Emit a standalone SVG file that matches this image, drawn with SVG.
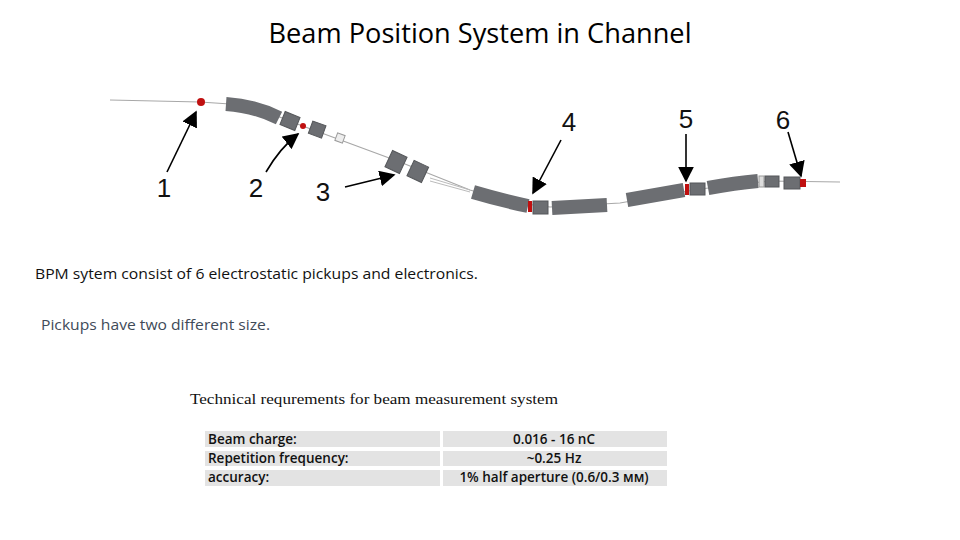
<svg xmlns="http://www.w3.org/2000/svg" width="960" height="540" viewBox="0 0 960 540">
<style>
.wire{stroke:#a8a8a8;stroke-width:1.2;fill:none}
.dip{stroke:#6c6e72;stroke-width:14;fill:none;stroke-linecap:butt}
.q{fill:#6c6e72;stroke:#55575a;stroke-width:1}
.red{fill:#c01010}
.arr{stroke:#000;stroke-width:1.6;fill:none;marker-end:url(#ah)}
.num{font-family:"Liberation Sans",Arial,sans-serif;font-size:26px;fill:#111;text-anchor:middle}
.cell{fill:#e3e3e3}
.tt{font-family:"Open Sans","Noto Sans",sans-serif;font-size:13.5px;font-weight:600;fill:#111}
</style>
<defs>
<marker id="ah" viewBox="0 0 10 10" refX="9" refY="5" markerWidth="10" markerHeight="10" orient="auto" markerUnits="strokeWidth"><path d="M0,0 L10,5 L0,10 z" fill="#000"/></marker>
</defs>
<rect width="960" height="540" fill="#fff"/>
<text x="480" y="43" text-anchor="middle" textLength="423" lengthAdjust="spacingAndGlyphs" font-family="Open Sans, Noto Sans, sans-serif" font-size="27" fill="#000">Beam Position System in Channel</text>
<g id="beamline">
<path class="wire" d="M110,100 L200,102 L230,104 Q260,108 300,125 L400,162 L470,190 Q510,203 550,207 L620,203 L700,189 L770,181 L840,182"/>
<circle class="red" cx="201" cy="102" r="4"/>
<path class="dip" d="M226,104 Q255,106 279,118"/>
<rect class="q" x="-8" y="-7" width="16" height="14" transform="translate(290,121) rotate(22)"/>
<circle class="red" cx="303" cy="126" r="3"/>
<rect class="q" x="-7" y="-7" width="14" height="13" transform="translate(317,130) rotate(20)"/>
<rect x="-4" y="-4" width="8" height="8" fill="#eee" stroke="#999" transform="translate(340,138) rotate(20)"/>
<rect class="q" x="-8" y="-9" width="16" height="18" transform="translate(396,162) rotate(25)"/>
<rect class="q" x="-8" y="-8" width="16" height="17" transform="translate(418,171) rotate(25)"/>
<path d="M430,178 L470,190 M430,181 L470,192" stroke="#bbb" fill="none"/>
<path class="dip" d="M473,192 Q500,200 528,206" stroke-width="13"/>
<rect class="red" x="528" y="201" width="4" height="11"/>
<rect class="q" x="533" y="201" width="15" height="13"/>
<path class="dip" d="M552,208 L607,205" stroke-width="13"/>
<path class="dip" d="M627,200 Q655,195 684,190" stroke-width="10"/>
<rect class="red" x="685" y="184" width="4" height="11"/>
<rect class="q" x="690" y="183" width="15" height="12"/>
<path class="dip" d="M708,188 Q735,183 758,181" stroke-width="12"/>
<rect x="759" y="176" width="5" height="11" fill="#ddd" stroke="#999"/>
<rect class="q" x="765" y="176" width="14" height="11"/>
<rect class="q" x="784" y="177" width="16" height="12"/>
<rect class="red" x="800" y="179" width="6" height="8"/>
</g>
<g id="connectors">
<line class="arr" x1="167" y1="172" x2="196" y2="112"/>
<path class="arr" d="M266,172 Q280,148 298,134"/>
<line class="arr" x1="345" y1="187" x2="394" y2="175"/>
<line class="arr" x1="561" y1="140" x2="533" y2="193"/>
<line class="arr" x1="686" y1="134" x2="686" y2="181"/>
<line class="arr" x1="788" y1="132" x2="801" y2="176"/>
</g>
<g id="labels">
<text class="num" x="164" y="197">1</text>
<text class="num" x="256" y="197">2</text>
<text class="num" x="323" y="201">3</text>
<text class="num" x="569" y="131">4</text>
<text class="num" x="686" y="128">5</text>
<text class="num" x="783" y="129">6</text>
</g>
<text x="35" y="279" textLength="443" lengthAdjust="spacingAndGlyphs" font-family="Open Sans, sans-serif" font-size="15" fill="#111">BPM sytem consist of 6 electrostatic pickups and electronics.</text>
<text x="41" y="330" textLength="229" lengthAdjust="spacingAndGlyphs" font-family="Open Sans, sans-serif" font-size="15" fill="#404a58">Pickups have two different size.</text>
<text x="190" y="404" textLength="368" lengthAdjust="spacingAndGlyphs" font-family="Liberation Serif, serif" font-size="15" fill="#111">Technical requrements for beam measurement system</text>
<g id="table">
<rect class="cell" x="205" y="431" width="235" height="16"/>
<rect class="cell" x="443" y="431" width="224" height="16"/>
<rect class="cell" x="205" y="451" width="235" height="15"/>
<rect class="cell" x="443" y="451" width="224" height="15"/>
<rect class="cell" x="205" y="470" width="235" height="16"/>
<rect class="cell" x="443" y="470" width="224" height="16"/>
<text class="tt" x="208" y="444">Beam charge:</text>
<text class="tt" x="208" y="463">Repetition frequency:</text>
<text class="tt" x="208" y="482">accuracy:</text>
<text class="tt" x="554" y="444" text-anchor="middle">0.016 - 16 nC</text>
<text class="tt" x="554" y="463" text-anchor="middle">~0.25 Hz</text>
<text class="tt" x="554" y="482" text-anchor="middle">1% half aperture (0.6/0.3 мм)</text>
</g>
</svg>
